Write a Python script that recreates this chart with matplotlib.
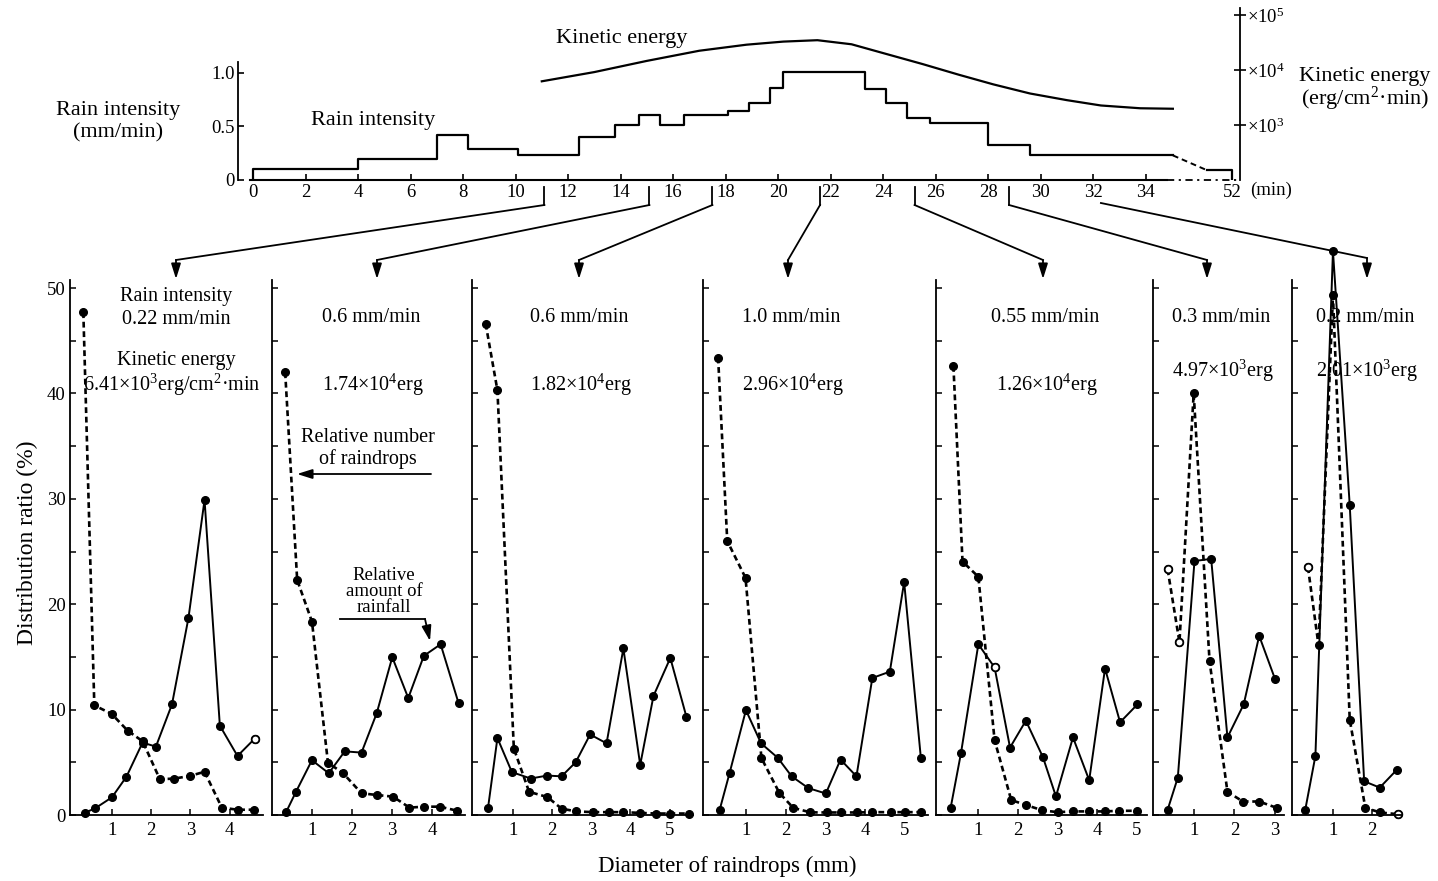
import numpy as np
import matplotlib
matplotlib.use('Agg')
import matplotlib.pyplot as plt
from matplotlib.lines import Line2D
from matplotlib.ticker import NullLocator

plt.rcParams['font.family'] = ['Liberation Serif', 'DejaVu Serif']
plt.rcParams['mathtext.fontset'] = 'custom'
plt.rcParams['mathtext.rm'] = 'Liberation Serif'
plt.rcParams['mathtext.it'] = 'Liberation Serif:italic'
plt.rcParams['mathtext.bf'] = 'Liberation Serif:bold'

# ---- top panel: rain intensity (mm/min), step breaks in minutes
rain_t = [0, 4, 7, 8.2, 10.1, 12.4, 13.8, 14.7, 15.5, 16.4, 18.1, 18.9, 19.7, 20.2,
          23.3, 24.1, 24.9, 25.8, 28.0, 29.6, 35.3]
rain_i = [0.1, 0.2, 0.42, 0.29, 0.23, 0.40, 0.51, 0.61, 0.51, 0.61, 0.64, 0.72, 0.86, 1.01,
          0.85, 0.72, 0.58, 0.53, 0.33, 0.23, 0.23]
# after the axis break (35 -> 52 min)
tail_t = [35.3, 45, 52, 52]
tail_i = [0.23, 0.09, 0.09, 0.0]

# kinetic energy (erg/cm2.min)
ke_t = [11, 13, 15, 17, 18.8, 20.2, 21.5, 22.8, 24.2, 25.5, 26.9, 28.2, 29.6, 31, 32.3, 33.8, 35.3]
ke_e = [6.25e3, 9.2e3, 1.47e4, 2.25e4, 2.9e4, 3.3e4, 3.5e4, 2.95e4, 1.92e4, 1.29e4, 8.2e3,
        5.5e3, 3.75e3, 2.84e3, 2.27e3, 2.02e3, 1.98e3]

top_ticks = [0, 2, 4, 6, 8, 10, 12, 14, 16, 18, 20, 22, 24, 26, 28, 30, 32, 34, 52]

# sampling times (min) linked to each lower panel
conn_t = [11.1, 15.1, 17.5, 21.6, 25.2, 28.8, 32.3]

# ---- lower panels: diameter (mm) vs distribution ratio (%)
# dashed = relative number of raindrops, solid = relative amount of rainfall
num_d = [
    [0.27, 0.55, 0.99, 1.40, 1.78, 2.22, 2.58, 2.98, 3.36, 3.80, 4.20, 4.63],
    [0.33, 0.63, 1.00, 1.40, 1.78, 2.24, 2.62, 3.03, 3.44, 3.80, 4.20, 4.63],
    [0.30, 0.60, 1.02, 1.41, 1.88, 2.24, 2.62, 3.05, 3.46, 3.82, 4.25, 4.66, 5.02, 5.50],
    [0.30, 0.53, 0.99, 1.39, 1.84, 2.19, 2.62, 3.04, 3.38, 3.80, 4.18, 4.64, 5.00, 5.40],
    [0.37, 0.60, 1.00, 1.41, 1.83, 2.20, 2.62, 3.00, 3.40, 3.80, 4.19, 4.56, 5.00],
    [0.36, 0.65, 1.00, 1.39, 1.83, 2.21, 2.61, 3.04],
    [0.36, 0.63, 1.00, 1.43, 1.83, 2.21, 2.68],
]
num_v = [
    [47.7, 10.4, 9.6, 8.0, 7.0, 3.4, 3.45, 3.7, 4.1, 0.7, 0.5, 0.5],
    [42.0, 22.3, 18.35, 4.97, 3.96, 2.06, 1.9, 1.74, 0.7, 0.79, 0.79, 0.41],
    [46.6, 40.3, 6.3, 2.2, 1.7, 0.6, 0.34, 0.27, 0.27, 0.27, 0.2, 0.14, 0.14, 0.14],
    [43.4, 26.0, 22.5, 5.4, 2.1, 0.68, 0.25, 0.24, 0.24, 0.24, 0.27, 0.27, 0.27, 0.27],
    [42.6, 24.05, 22.6, 7.1, 1.42, 0.95, 0.44, 0.27, 0.34, 0.34, 0.34, 0.4, 0.4],
    [23.3, 16.4, 40.0, 14.6, 2.2, 1.28, 1.28, 0.68],
    [23.5, 16.1, 49.3, 9.05, 0.68, 0.24, 0.07],
]
amt_d = [
    [0.31, 0.57, 1.00, 1.37, 1.78, 2.12, 2.53, 2.95, 3.36, 3.75, 4.20, 4.64],
    [0.35, 0.60, 1.00, 1.42, 1.82, 2.24, 2.62, 3.01, 3.41, 3.80, 4.22, 4.67],
    [0.36, 0.60, 0.97, 1.45, 1.87, 2.24, 2.60, 2.97, 3.39, 3.82, 4.25, 4.59, 5.02, 5.43],
    [0.34, 0.59, 1.00, 1.38, 1.80, 2.15, 2.57, 3.01, 3.38, 3.78, 4.18, 4.62, 4.98, 5.40],
    [0.30, 0.56, 1.00, 1.41, 1.80, 2.20, 2.63, 2.96, 3.39, 3.80, 4.20, 4.58, 5.02],
    [0.36, 0.61, 1.02, 1.43, 1.83, 2.23, 2.61, 3.00],
    [0.29, 0.55, 1.00, 1.43, 1.80, 2.20, 2.64],
]
amt_v = [
    [0.22, 0.63, 1.68, 3.64, 6.87, 6.49, 10.5, 18.7, 29.9, 8.48, 5.6, 7.25],
    [0.25, 2.2, 5.2, 3.96, 6.04, 5.92, 9.65, 14.97, 11.1, 15.1, 16.2, 10.6],
    [0.68, 7.3, 4.07, 3.46, 3.74, 3.67, 5.0, 7.64, 6.8, 15.8, 4.75, 11.3, 14.9, 9.34],
    [0.5, 4.0, 9.95, 6.8, 5.43, 3.67, 2.55, 2.04, 5.26, 3.67, 13.0, 13.6, 22.1, 5.43],
    [0.68, 5.85, 16.2, 14.0, 6.4, 8.95, 5.5, 1.76, 7.36, 3.3, 13.9, 8.8, 10.5],
    [0.5, 3.55, 24.1, 24.3, 7.36, 10.5, 17.0, 12.9],
    [0.5, 5.6, 53.5, 29.4, 3.2, 2.6, 4.3],
]
# points drawn as open circles
num_open = [[], [], [], [], [], [0, 1], [0, 6]]
amt_open = [[11], [], [], [], [3], [], []]

intensity_txt = ['0.22 mm/min', '0.6 mm/min', '0.6 mm/min', '1.0 mm/min',
                 '0.55 mm/min', '0.3 mm/min', '0.2 mm/min']
energy_txt = [r'6.41$\times$10$^3$erg/cm$^2$·min', r'1.74$\times$10$^4$erg',
              r'1.82$\times$10$^4$erg', r'2.96$\times$10$^4$erg', r'1.26$\times$10$^4$erg',
              r'4.97$\times$10$^3$erg', r'2.01$\times$10$^3$erg']

# ---- layout (pixels of the 1438x881 image)
W, H = 1438, 881
fig = plt.figure(figsize=(W / 100, H / 100), dpi=100)


def px_axes(x0, x1, y0, y1):
    return fig.add_axes([x0 / W, 1 - y1 / H, (x1 - x0) / W, (y1 - y0) / H])


def ftext(x, y, s, **kw):
    kw.setdefault('ha', 'center')
    kw.setdefault('va', 'center')
    fig.text(x / W, 1 - y / H, s, **kw)


def fline(xs, ys, **kw):
    fig.add_artist(Line2D([x / W for x in xs], [1 - y / H for y in ys],
                          transform=fig.transFigure, color='k', lw=1.3, **kw))


def farrow(x0, y0, x1, y1):
    fig.add_artist(matplotlib.patches.FancyArrowPatch(
        (x0 / W, 1 - y0 / H), (x1 / W, 1 - y1 / H), transform=fig.transFigure,
        arrowstyle='-|>,head_length=0.7,head_width=0.22', mutation_scale=13,
        color='k', lw=1.3, shrinkA=0, shrinkB=0))


# ===== top panel
def fwd(t):
    t = np.asarray(t, dtype=float)
    return np.where(t <= 35, t, 35 + (t - 35) * 0.1353)


def inv(p):
    p = np.asarray(p, dtype=float)
    return np.where(p <= 35, p, 35 + (p - 35) / 0.1353)


ax = px_axes(250.4, 1240, 8, 180)
ax.set_xscale('function', functions=(fwd, inv))
ax.set_xlim(-0.1, 54.2)
ax.set_ylim(0, 1.607)
ax.patch.set_alpha(0)
for s in ['top', 'right', 'bottom']:
    ax.spines[s].set_visible(False)
ax.spines['left'].set_position(('outward', 9))
ax.spines['left'].set_bounds(0, 1.1)
ax.spines['left'].set_linewidth(1.3)
ax.set_yticks([0, 0.5, 1.0])
ax.set_yticklabels(['0', '0.5', '1.0'])
ax.set_xticks(top_ticks)
ax.set_xticklabels([str(t) for t in top_ticks])
ax.tick_params(axis='both', direction='in', length=4, width=1.2, labelsize=13.5, pad=3)
ax.tick_params(axis='y', pad=2)
ax.plot([-0.1, 34.8], [0, 0], color='k', lw=1.5, clip_on=False)
ax.plot([34.8, 54.2], [0, 0], color='k', lw=1.3, linestyle=(0, (4, 2.5, 1.2, 2.5)), clip_on=False)

ax.plot([0] + rain_t, [0] + rain_i, color='k', lw=1.6, drawstyle='steps-post')
ax.plot(tail_t[:2], tail_i[:2], color='k', lw=1.4, linestyle=(0, (3, 2)))
ax.plot(tail_t[1:], tail_i[1:], color='k', lw=1.6)

ax2 = ax.twinx()
ax2.set_yscale('log')
ax2.set_ylim(100, 10 ** 5.13)
for s in ['top', 'left', 'bottom']:
    ax2.spines[s].set_visible(False)
ax2.spines['right'].set_linewidth(1.3)
ax2.set_yticks([1e3, 1e4, 1e5])
ax2.set_yticklabels([r'$\times$10$^3$', r'$\times$10$^4$', r'$\times$10$^5$'])
ax2.yaxis.set_minor_locator(NullLocator())
ax2.tick_params(axis='y', direction='inout', length=8, width=1.2, labelsize=13.5, pad=1)
ax2.plot(ke_t, ke_e, color='k', lw=1.6)

ftext(118, 110, 'Rain intensity', fontsize=16)
ftext(118, 133, '(mm/min)', fontsize=16)
ftext(373, 120, 'Rain intensity', fontsize=16)
ftext(622, 38, 'Kinetic energy', fontsize=16)
ftext(1365, 76, 'Kinetic energy', fontsize=16)
ftext(1365, 99, r'(erg/cm$^2$·min)', fontsize=16)
ftext(1250, 190, '(min)', fontsize=13.5, ha='left')

# ===== lower panels  (x0, x1 in px, xlim)
panel_box = [(70, 263, -0.07, 4.85), (272, 465, 0.0, 4.83), (472, 693, -0.05, 5.6),
             (703, 928, -0.08, 5.58), (936, 1147, -0.07, 5.26), (1153, 1284, 0.0, 3.22),
             (1292, 1402, -0.05, 2.77)]
arrow_x = [176, 377, 579, 788, 1043, 1207, 1367]

for i, (x0, x1, xl0, xl1) in enumerate(panel_box):
    a = px_axes(x0, x1, 279.6, 815)
    a.set_xlim(xl0, xl1)
    a.set_ylim(0, 50.8)
    a.patch.set_alpha(0)
    a.spines['top'].set_visible(False)
    a.spines['right'].set_visible(False)
    a.spines['left'].set_linewidth(1.3)
    a.spines['bottom'].set_linewidth(1.3)
    a.set_yticks(np.arange(0, 51, 5))
    if i == 0:
        a.set_yticklabels(['0', '', '10', '', '20', '', '30', '', '40', '', '50'])
    else:
        a.set_yticklabels([])
    a.set_xticks(np.arange(1, int(xl1) + 1))
    a.tick_params(direction='in', length=4, width=1.1, labelsize=13.5, pad=5)
    a.tick_params(axis='y', pad=3)

    a.plot(num_d[i], num_v[i], color='k', lw=1.9, linestyle=(0, (2.2, 1.4)),
           marker='o', ms=5.5, mfc='k', mec='k', clip_on=False)
    a.plot(amt_d[i], amt_v[i], color='k', lw=1.4,
           marker='o', ms=5.5, mfc='k', mec='k', clip_on=False)
    for j in num_open[i]:
        a.plot(num_d[i][j], num_v[i][j], 'o', ms=5.5, mfc='white', mec='k', mew=1.3, clip_on=False)
    for j in amt_open[i]:
        a.plot(amt_d[i][j], amt_v[i][j], 'o', ms=5.5, mfc='white', mec='k', mew=1.3, clip_on=False)

# panel labels
ftext(176, 296, 'Rain intensity', fontsize=14.5)
ftext(176, 361, 'Kinetic energy', fontsize=14.5)
label_x = [176, 371, 579, 791, 1045, 1221, 1365]
for i in range(7):
    ftext(label_x[i], 320 if i == 0 else 317, intensity_txt[i], fontsize=14.5)
    ftext(label_x[i] - 4 if i == 0 else label_x[i] + 2, 385 if i < 5 else 371,
          energy_txt[i], fontsize=14.5)

ftext(368, 437, 'Relative number', fontsize=14.5)
ftext(368, 459, 'of raindrops', fontsize=14.5)
farrow(431, 474, 297, 474)
ftext(384, 576, 'Relative', fontsize=13.5)
ftext(384, 592, 'amount of', fontsize=13.5)
ftext(384, 608, 'rainfall', fontsize=13.5)
fline([340, 425], [619, 619])
farrow(425, 619, 430, 641)

ftext(27, 543, 'Distribution ratio (%)', fontsize=17, rotation=90)
ftext(727, 866, 'Diameter of raindrops (mm)', fontsize=16.5)

# ===== connectors from time axis to panels
for i, t in enumerate(conn_t):
    xp = ax.transData.transform((t, 0))[0]
    if i < 6:
        fline([xp, xp], [187, 205])
        fline([xp, arrow_x[i]], [205, 260])
    else:
        fline([xp, arrow_x[i]], [203, 258])
    farrow(arrow_x[i], 258 if i == 6 else 260, arrow_x[i], 279)

fig.savefig('out.png', dpi=100)
